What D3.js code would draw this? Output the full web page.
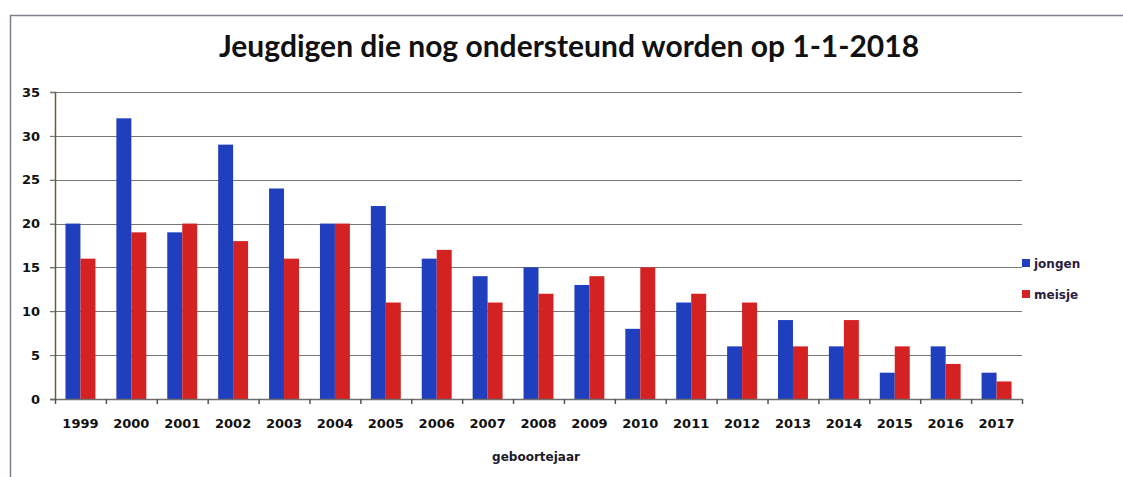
<!DOCTYPE html>
<html>
<head>
<meta charset="utf-8">
<script src="https://cdn.jsdelivr.net/npm/d3@7/dist/d3.min.js"></script>
<style>
  html, body { margin: 0; padding: 0; background: #fff; }
  svg { display: block; }
</style>
</head>
<body>
<svg id="chart" width="1123" height="477"></svg>
<script>
// Birth years on the x axis
const years = ["1999","2000","2001","2002","2003","2004","2005","2006","2007","2008",
               "2009","2010","2011","2012","2013","2014","2015","2016","2017"];
// Counts per birth year
const jongen = [20, 32, 19, 29, 24, 20, 22, 16, 14, 15, 13, 8, 11, 6, 9, 6, 3, 6, 3];
const meisje = [16, 19, 20, 18, 16, 20, 11, 17, 11, 12, 14, 15, 12, 11, 6, 9, 6, 4, 2];
const seriesNames = ["jongen", "meisje"];
const yTicks = [0, 5, 10, 15, 20, 25, 30, 35];

const colors = { jongen: "#1f3fbf", meisje: "#d42222" };
const svg = d3.select("#chart");
const font = "'DejaVu Sans', 'Open Sans', sans-serif";

// Outer frame (top and left edge)
svg.append("path")
  .attr("d", "M10.5,477 V15.5 H1123")
  .attr("fill", "none").attr("stroke", "#7a7f8a").attr("stroke-width", 1.5);

const plot = { left: 55, right: 1022, top: 92, bottom: 399 };

const x0 = d3.scaleBand().domain(years).range([plot.left, plot.right]).paddingInner(0).paddingOuter(0);
const x1 = d3.scaleBand().domain(seriesNames).range([0, x0.bandwidth()]).paddingInner(0).paddingOuter(0.7);
const y = d3.scaleLinear().domain([0, 35]).range([plot.bottom, plot.top]);

// Gridlines
svg.append("g").selectAll("line").data(yTicks.filter(t => t > 0)).join("line")
  .attr("x1", plot.left - 5).attr("x2", plot.right)
  .attr("y1", d => Math.round(y(d)) + 0.5).attr("y2", d => Math.round(y(d)) + 0.5)
  .attr("stroke", "#777").attr("stroke-width", 1.2);

// Y axis
const yAxis = svg.append("g").attr("transform", `translate(${plot.left},0)`)
  .call(d3.axisLeft(y).tickValues(yTicks).tickSize(5).tickPadding(14));
yAxis.select(".domain").attr("stroke", "#6b5a3a").attr("stroke-width", 1.5);
yAxis.selectAll(".tick line").attr("stroke", "#777");
yAxis.selectAll("text").attr("font-family", font).attr("font-weight", "bold")
  .attr("font-size", 13).attr("fill", "#111").attr("text-anchor", "end")
  .attr("x", -15);

// Bars
const groups = svg.append("g").selectAll("g").data(years).join("g")
  .attr("transform", d => `translate(${x0(d)},0)`);
groups.selectAll("rect")
  .data((d, i) => seriesNames.map(s => ({ s, v: s === "jongen" ? jongen[i] : meisje[i] })))
  .join("rect")
  .attr("x", d => x1(d.s))
  .attr("y", d => y(d.v))
  .attr("width", x1.bandwidth())
  .attr("height", d => y(0) - y(d.v))
  .attr("fill", d => colors[d.s]);

// X axis with tick marks between categories
const xAxis = svg.append("g").attr("transform", `translate(0,${plot.bottom})`);
xAxis.append("line").attr("x1", plot.left - 5).attr("x2", plot.right)
  .attr("y1", 0.5).attr("y2", 0.5).attr("stroke", "#6e6e6e").attr("stroke-width", 1.5);
xAxis.selectAll("line.tk").data(years.map(d => x0(d)).concat([plot.right])).join("line")
  .attr("class", "tk")
  .attr("x1", d => d + 0.5).attr("x2", d => d + 0.5).attr("y1", 0).attr("y2", 5)
  .attr("stroke", "#555").attr("stroke-width", 1.5);
xAxis.selectAll("text").data(years).join("text")
  .attr("x", d => x0(d) + x0.bandwidth() / 2)
  .attr("y", 29)
  .attr("text-anchor", "middle")
  .attr("font-family", font).attr("font-weight", "bold").attr("font-size", 13)
  .attr("fill", "#111")
  .text(d => d);

// Axis title
svg.append("text").attr("x", 536).attr("y", 461).attr("text-anchor", "middle")
  .attr("font-family", font).attr("font-weight", "bold").attr("font-size", 12)
  .attr("fill", "#1a1a2a").text("geboortejaar");

// Chart title
svg.append("text").attr("x", 569).attr("y", 57).attr("text-anchor", "middle")
  .attr("font-family", "Lato, 'Open Sans', sans-serif").attr("font-weight", "bold")
  .attr("font-size", 30).attr("fill", "#111")
  .text("Jeugdigen die nog ondersteund worden op 1-1-2018");

// Legend
const legend = svg.append("g").selectAll("g").data(seriesNames).join("g")
  .attr("transform", (d, i) => `translate(1022,${259 + i * 31})`);
legend.append("rect").attr("width", 8).attr("height", 8).attr("fill", d => colors[d]);
legend.append("text").attr("x", 12).attr("y", 9)
  .attr("font-family", font).attr("font-weight", "bold").attr("font-size", 12)
  .attr("fill", "#2a2040").text(d => d);
</script>
</body>
</html>
